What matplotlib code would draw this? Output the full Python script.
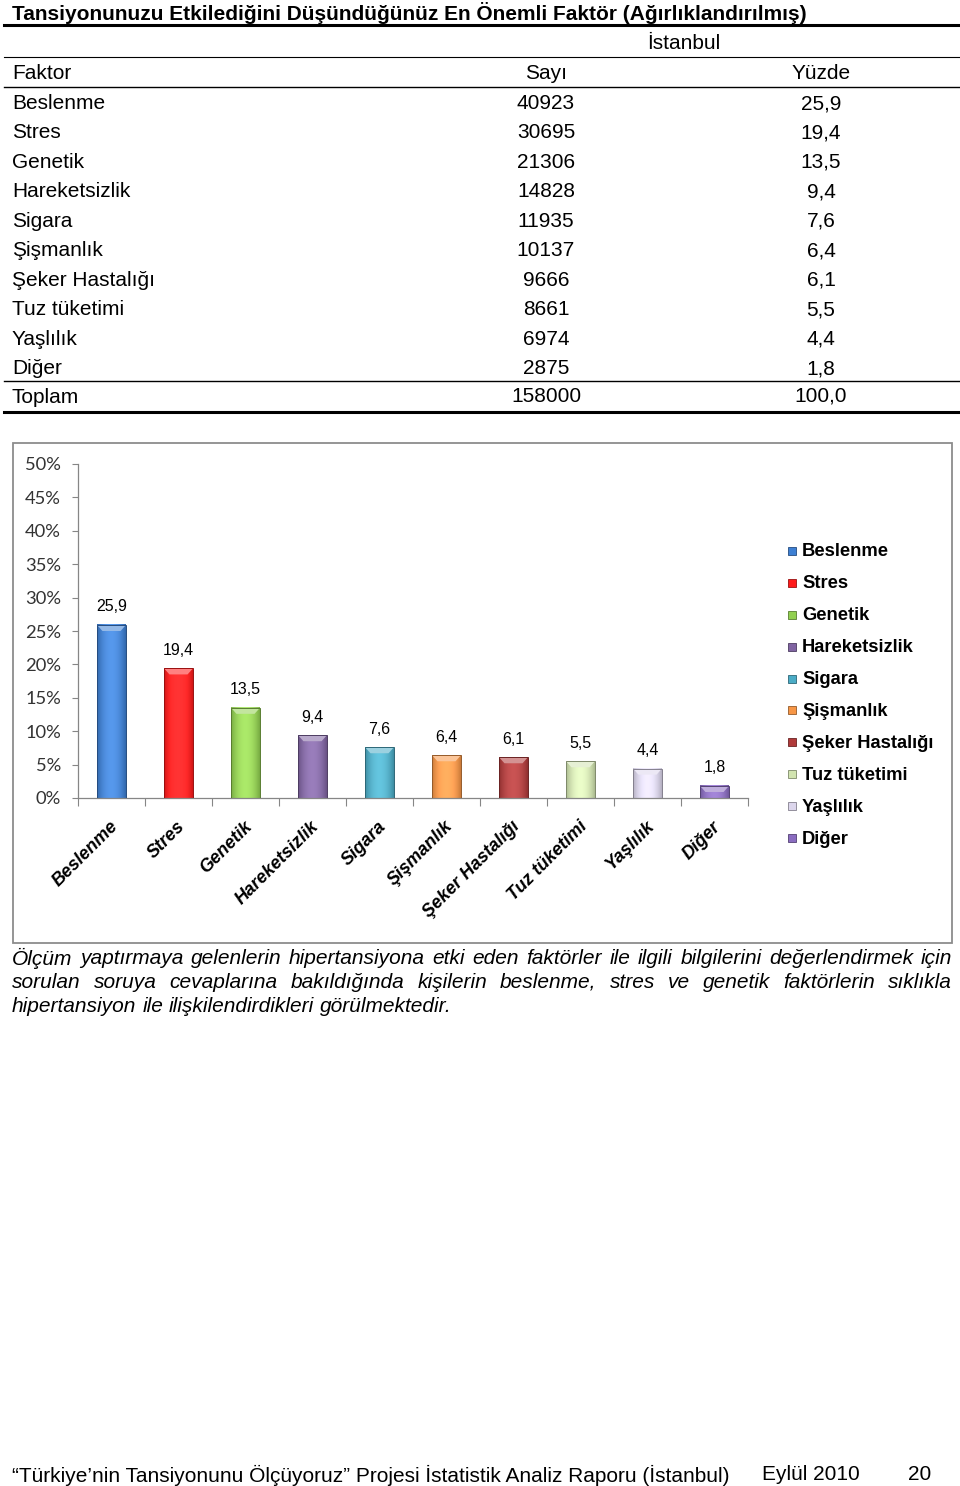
import numpy as np
import matplotlib
matplotlib.use("Agg")
import matplotlib.pyplot as plt
from matplotlib.colors import to_rgb
from matplotlib.patches import Rectangle, Polygon
from matplotlib.lines import Line2D
from matplotlib.ticker import PercentFormatter

W, H = 960, 1486

title = "Tansiyonunuzu Etkilediğini Düşündüğünüz En Önemli Faktör (Ağırlıklandırılmış)"
city = "İstanbul"
col_heads = ["Faktor", "Sayı", "Yüzde"]
factors = ["Beslenme", "Stres", "Genetik", "Hareketsizlik", "Sigara", "Şişmanlık",
           "Şeker Hastalığı", "Tuz tüketimi", "Yaşlılık", "Diğer"]
counts = [40923, 30695, 21306, 14828, 11935, 10137, 9666, 8661, 6974, 2875]
percents = [25.9, 19.4, 13.5, 9.4, 7.6, 6.4, 6.1, 5.5, 4.4, 1.8]
total_label = "Toplam"
total_count = 158000
total_pct = 100.0
colors = ["#3d7fd3", "#ff1a1a", "#92d050", "#8064a2", "#4bacc6", "#f79646",
          "#b03a3a", "#d2e4b0", "#dcd6ec", "#8a6cc0"]

para = [
    "Ölçüm yaptırmaya gelenlerin hipertansiyona etki eden faktörler ile ilgili bilgilerini değerlendirmek için",
    "sorulan soruya cevaplarına bakıldığında kişilerin beslenme, stres ve genetik faktörlerin sıklıkla",
    "hipertansiyon ile ilişkilendirdikleri görülmektedir.",
]
footer = "“Türkiye’nin Tansiyonunu Ölçüyoruz” Projesi İstatistik Analiz Raporu (İstanbul)"
footer_date = "Eylül 2010"
page_no = "20"

FONT = "Liberation Sans"


def fx(x):
    return x / W


def fy(y):
    return 1 - y / H


def tr(v):
    return f"{v:.1f}".replace(".", ",")


fig = plt.figure(figsize=(W / 100, H / 100), dpi=100)
fig.patch.set_facecolor("white")

# ---- table ----
tdy = 1.5  # small downward nudge for table text
fig.text(fx(12), fy(12 + tdy), title, ha="left", va="center", fontsize=15,
         fontweight="bold", family=FONT)
fig.text(fx(684), fy(42 + tdy), city, ha="center", va="center", fontsize=15, family=FONT)
fig.text(fx(12), fy(72 + tdy), col_heads[0], ha="left", va="center", fontsize=15, family=FONT)
fig.text(fx(546), fy(72 + tdy), col_heads[1], ha="center", va="center", fontsize=15, family=FONT)
fig.text(fx(821), fy(72 + tdy), col_heads[2], ha="center", va="center", fontsize=15, family=FONT)

row_y0, row_dy = 102, 29.45
for i, (f, c, p) in enumerate(zip(factors, counts, percents)):
    y = row_y0 + i * row_dy + tdy
    fig.text(fx(12), fy(y), f, ha="left", va="center", fontsize=15, family=FONT)
    fig.text(fx(546), fy(y), str(c), ha="center", va="center", fontsize=15, family=FONT)
    fig.text(fx(821), fy(y), tr(p), ha="center", va="center", fontsize=15, family=FONT)
fig.text(fx(12), fy(396 + tdy), total_label, ha="left", va="center", fontsize=15, family=FONT)
fig.text(fx(546), fy(395 + tdy), str(total_count), ha="center", va="center", fontsize=15, family=FONT)
fig.text(fx(821), fy(395 + tdy), tr(total_pct), ha="center", va="center", fontsize=15, family=FONT)

for y, lw in [(25, 2.2), (57, 0.8), (87, 1.0), (381, 1.0), (412, 2.2)]:
    fig.add_artist(Line2D([fx(4), fx(960)], [fy(y), fy(y)], lw=lw, color="black"))

# ---- chart ----
fig.add_artist(Rectangle((fx(13), fy(943)), (952 - 13) / W, (943 - 443) / H,
                         transform=fig.transFigure, fill=False,
                         edgecolor="#8c8c8c", lw=1.3))

ax = fig.add_axes([fx(78), fy(798), (748 - 78) / W, (798 - 464) / H])
x = np.arange(len(factors))
bw = 0.43
bars = ax.bar(x, percents, width=bw, color=colors, zorder=2)
for b, c in zip(bars, colors):
    base = np.array(to_rgb(c))
    t = np.linspace(-1, 1, 64)
    shade = 0.82 + 0.18 * (1 - t ** 2)
    img = np.clip(base[None, :] * shade[:, None] + 0.10 * (1 - t ** 2)[:, None], 0, 1)[None, :, :]
    x0, x1, h = b.get_x(), b.get_x() + b.get_width(), b.get_height()
    ax.imshow(img, extent=(x0, x1, 0, h), aspect="auto", zorder=2.5,
              interpolation="bilinear")
    light = np.clip(base + (1 - base) * 0.45, 0, 1)
    ax.add_patch(Polygon([(x0, h), (x0 + 0.08, h - 0.9), (x1 - 0.08, h - 0.9), (x1, h)],
                         closed=True, facecolor=light, edgecolor="none", zorder=3))
    ax.add_patch(Rectangle((x0, 0), x1 - x0, h, fill=False,
                           edgecolor=base * 0.6, lw=0.7, zorder=3.5))
    ax.annotate(tr(h), xy=(b.get_x() + b.get_width() / 2, h), xytext=(0, 18),
                textcoords="offset pixels", ha="center", va="center",
                fontsize=11.5, family=FONT)

ax.set_xlim(-0.5, len(factors) - 0.5)
ax.set_ylim(0, 50)
ax.set_yticks(np.arange(0, 51, 5))
ax.yaxis.set_major_formatter(PercentFormatter(decimals=0))
ax.tick_params(axis="y", length=4.3, width=0.8, color="#868686", pad=8,
               labelsize=13.2, labelcolor="#333333")
for lab in ax.get_yticklabels():
    lab.set_family("Lato")
ax.set_xticks(x)
ax.set_xticklabels([])
ax.tick_params(axis="x", which="major", length=0)
ax.set_xticks(np.arange(-0.5, len(factors), 1), minor=True)
ax.tick_params(axis="x", which="minor", length=6, width=0.8, color="#868686")
for s in ["top", "right"]:
    ax.spines[s].set_visible(False)
for s in ["left", "bottom"]:
    ax.spines[s].set_color("#868686")
    ax.spines[s].set_linewidth(0.9)

for i, f in enumerate(factors):
    ax.annotate(f, xy=(i, 0), xycoords=("data", "axes fraction"), xytext=(4, -26),
                textcoords="offset pixels", rotation=45, rotation_mode="anchor",
                ha="right", va="center", fontsize=13, fontweight="bold",
                fontstyle="italic", family=FONT)

# legend
for i, (f, c) in enumerate(zip(factors, colors)):
    y = 551 + i * 31.9
    base = np.array(to_rgb(c))
    fig.add_artist(Rectangle((fx(788), fy(y + 4)), 8 / W, 8 / H,
                             transform=fig.transFigure, facecolor=c,
                             edgecolor=base * 0.6, lw=0.6))
    fig.text(fx(802), fy(y + 1), f, ha="left", va="center", fontsize=13.2,
             fontweight="bold", family=FONT)

# ---- paragraph (justified) ----
renderer = fig.canvas.get_renderer()


def place_line(line, y, x0, x1, justify):
    words = line.split(" ")
    ts = [fig.text(0, fy(y), w_, ha="left", va="center", fontsize=15,
                   fontstyle="italic", family=FONT) for w_ in words]
    widths = [t.get_window_extent(renderer).width for t in ts]
    if justify:
        gap = (x1 - x0 - sum(widths)) / (len(words) - 1)
    else:
        gap = 15 * 100 / 72 * 0.278
    xx = x0
    for t, wd in zip(ts, widths):
        t.set_x(fx(xx))
        xx += wd + gap


for k, line in enumerate(para):
    place_line(line, 958 + k * 24, 12, 952, k < len(para) - 1)

# ---- footer ----
fig.text(fx(12), fy(1475), footer, ha="left", va="center", fontsize=15, family=FONT)
fig.text(fx(762), fy(1475), footer_date, ha="left", va="center", fontsize=15, family=FONT)
fig.text(fx(908), fy(1475), page_no, ha="left", va="center", fontsize=15, family=FONT)

fig.savefig("out.png", dpi=100)
